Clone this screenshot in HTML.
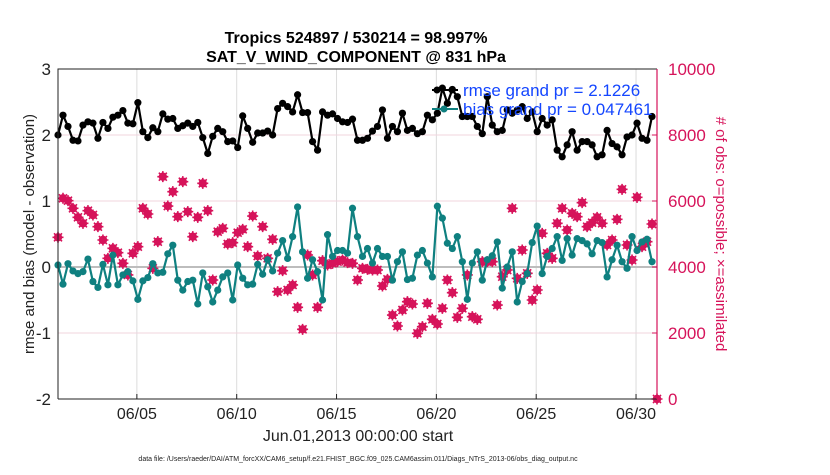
<!DOCTYPE html>
<html><head><meta charset="utf-8">
<style>
html,body{margin:0;padding:0;background:#fff;}
svg text{font-family:"Liberation Sans",Arial,sans-serif;}
</style></head>
<body>
<svg id="chart" width="830" height="470" viewBox="0 0 830 470" xmlns="http://www.w3.org/2000/svg">
<rect x="0" y="0" width="830" height="470" fill="#fff"/>
<g id="grid"></g>
<g id="series"></g>
<g id="axes"></g>
<text x="356" y="43" text-anchor="middle" font-size="16" font-weight="bold">Tropics 524897 / 530214 = 98.997%</text>
<text x="356" y="62" text-anchor="middle" font-size="16" font-weight="bold">SAT_V_WIND_COMPONENT @ 831 hPa</text>
<text transform="translate(34,234) rotate(-90)" text-anchor="middle" font-size="15" fill="#222">rmse and bias (model - observation)</text>
<text transform="translate(716,234) rotate(90)" text-anchor="middle" font-size="15" fill="#d6135a"># of obs: o=possible; ×=assimilated</text>
<text x="358" y="441" text-anchor="middle" font-size="16" fill="#222">Jun.01,2013 00:00:00 start</text>
<text x="358" y="461" text-anchor="middle" font-size="7" fill="#222">data file: /Users/raeder/DAI/ATM_forcXX/CAM6_setup/f.e21.FHIST_BGC.f09_025.CAM6assim.011/Diags_NTrS_2013-06/obs_diag_output.nc</text>
<g>
<line x1="432" y1="90" x2="458" y2="90" stroke="#000" stroke-width="2"/>
<circle cx="437" cy="90" r="3.5" fill="#000"/>
<circle cx="452" cy="90" r="3.5" fill="#000"/>
<text x="463" y="96" font-size="17" fill="#1446ff">rmse grand pr = 2.1226</text>
<line x1="432" y1="109" x2="458" y2="109" stroke="#0f8080" stroke-width="2"/>
<circle cx="444" cy="109" r="3.5" fill="#0f8080"/>
<text x="463" y="115" font-size="17" fill="#1446ff">bias grand pr = 0.047461</text>
</g>
</svg>
<script>
const xTickLabels=["06/05","06/10","06/15","06/20","06/25","06/30"];
const xTickDays=[5,10,15,20,25,30];
const leftTicks=[-2,-1,0,1,2,3];
const rightTicks=[0,2000,4000,6000,8000,10000];
const rightTickLabels=["0","2000","4000","6000","8000","10000"];
const rmse=[2.0,2.30,2.13,1.92,1.91,2.15,2.20,2.18,1.95,2.19,2.10,2.27,2.30,2.37,2.18,2.17,2.49,2.05,1.96,2.11,2.05,2.32,2.24,2.25,2.10,2.14,2.18,2.13,2.19,1.96,1.72,1.98,2.10,2.05,1.90,1.91,1.81,2.29,2.10,1.89,2.03,2.03,2.06,2.00,2.40,2.48,2.43,2.35,2.61,2.34,2.34,1.90,1.77,2.35,2.30,2.32,2.25,2.20,2.19,2.24,1.92,
1.92,1.95,2.06,2.13,2.38,1.95,2.13,2.05,2.33,2.07,2.10,2.02,2.05,2.30,2.23,2.33,2.71,2.48,2.69,2.58,2.28,2.28,2.28,2.13,2.02,2.58,2.15,2.05,2.07,2.38,2.33,2.38,2.43,2.25,2.35,2.05,2.25,2.15,2.23,1.77,1.67,1.85,2.05,1.77,1.90,1.90,1.85,1.67,1.70,2.07,1.87,1.82,1.70,1.97,2.00,2.18,1.95,1.92,2.28];
const bias=[0.03,-0.26,0.05,-0.06,-0.10,-0.07,0.12,-0.22,-0.31,0.04,-0.27,0.18,-0.27,-0.12,-0.07,-0.21,-0.49,-0.21,-0.16,0.05,-0.09,-0.08,0.20,0.33,-0.20,-0.35,-0.22,-0.20,-0.56,-0.09,-0.30,
-0.53,-0.35,-0.15,-0.09,-0.50,0.03,-0.17,-0.27,-0.26,0.04,-0.11,0.11,-0.06,0.21,0.40,0.13,0.46,0.91,0.23,-0.17,0.11,-0.07,-0.50,0.49,0.16,0.25,0.25,0.21,0.89,0.46,
0.16,0.28,0.06,0.28,0.16,0.16,-0.20,0.08,0.23,-0.19,-0.17,0.18,0.25,0.06,-0.15,0.92,0.74,0.36,0.28,0.46,0.08,-0.49,0.06,0.23,-0.20,0.11,0.17,0.38,-0.32,0.00,
0.23,-0.53,-0.22,-0.10,0.37,0.62,-0.10,0.16,0.28,0.46,0.10,0.43,0.18,0.43,0.40,0.35,0.20,0.40,0.37,-0.15,0.11,0.33,0.08,-0.02,0.46,0.25,0.38,0.42,0.08];
const nobs=[4900,6082,6010,5778,5505,5323,5707,5576,5222,4818,4263,4566,4434,4111,3758,4414,4616,5778,5606,3960,4768,6737,5848,6283,5525,6586,5677,4919,5505,6535,5707,
3606,5070,5171,4697,4737,5040,5141,4616,5545,4333,5222,4263,4838,3252,3889,3303,3455,2778,2111,4364,3758,2778,4192,4061,4111,4162,4212,4131,4111,3606,
3960,3929,3909,3909,3424,3626,2545,2212,2697,2949,2879,1990,2192,2899,2414,2273,2747,3606,3222,2475,2747,3758,2495,2414,4162,4162,4162,2848,3707,3909,
5778,3657,4515,3808,3000,3303,5020,4414,4263,5323,5778,5121,5626,5525,5949,5222,5343,5505,5323,4667,4818,5444,6354,4667,4212,6111,4616,4768,5303,0];
const X0=58,X1=657,Y0=69,Y1=399,DMIN=1.05,DMAX=31.05;
const xs=d=>X0+(d-DMIN)/(DMAX-DMIN)*(X1-X0);
const yl=v=>Y1-(v+2)/5*(Y1-Y0);
const yr=v=>Y1-v/10000*(Y1-Y0);
const dayOf=i=>DMIN+i*0.25;
const NS="http://www.w3.org/2000/svg";
function mk(tag,attrs,parent){const e=document.createElementNS(NS,tag);for(const k in attrs)e.setAttribute(k,attrs[k]);parent.appendChild(e);return e;}
const grid=document.getElementById('grid'),series=document.getElementById('series'),axes=document.getElementById('axes');
xTickDays.forEach((d,i)=>{
 const l=mk('line',{x1:xs(d),x2:xs(d),y1:Y0,y2:Y1,stroke:'#dcdcdc','stroke-width':1},grid);
 
 
 const t=mk('line',{x1:xs(d),x2:xs(d),y1:Y1,y2:Y1-5,stroke:'#222','stroke-width':1},axes);
 
 
 const tx=mk('text',{x:xs(d),y:Y1+20,'text-anchor':'middle','font-size':16,fill:'#222'},axes);
 tx.textContent=xTickLabels[i];
 
 
});
leftTicks.forEach(v=>{
 if(v!==-2&&v!==3&&v!==0){const g=mk('line',{x1:X0,x2:X1,y1:yl(v),y2:yl(v),stroke:'#f0d4de','stroke-width':1},grid);
 
 }
 const tx=mk('text',{x:X0-7,y:yl(v)+6,'text-anchor':'end','font-size':17,fill:'#222'},axes);
 tx.textContent=v;
 
 
});
const zl=mk('line',{x1:X0,x2:X1,y1:yl(0),y2:yl(0),stroke:'#bdbdbd','stroke-width':2},grid);


rightTicks.forEach((v,i)=>{
 const t=mk('line',{x1:X1,x2:X1-5,y1:yr(v),y2:yr(v),stroke:'#d6135a','stroke-width':1},axes);
 
 
 const tx=mk('text',{x:X1+11,y:yr(v)+6,'font-size':17,fill:'#d6135a'},axes);
 tx.textContent=rightTickLabels[i];
 
 
});
const fr=mk('path',{d:`M${X0},${Y1}V${Y0}H${X1}M${X0},${Y1}H${X1}`,fill:'none',stroke:'#222','stroke-width':1},axes);


const ra=mk('line',{x1:X1,x2:X1,y1:Y0,y2:Y1,stroke:'#d6135a','stroke-width':1.2},axes);


nobs.forEach((v,i)=>{
 const x=xs(dayOf(i)),y=yr(v);
 const g=mk('g',{},series);
 
 
 mk('circle',{cx:x,cy:y,r:4.2,fill:'#d6135a'},g);
 mk('path',{d:`M${x-5.5},${y}H${x+5.5}M${x},${y-5.5}V${y+5.5}M${x-4},${y-4}L${x+4},${y+4}M${x-4},${y+4}L${x+4},${y-4}`,stroke:'#d6135a','stroke-width':1.6},g);
});
function line(arr,color,name){
 const pts=arr.map((v,i)=>xs(dayOf(i)).toFixed(1)+','+yl(v).toFixed(1)).join(' ');
 const pl=mk('polyline',{points:pts,fill:'none',stroke:color,'stroke-width':2.2,'stroke-linejoin':'round'},series);
 
 
 arr.forEach((v,i)=>{
  const c=mk('circle',{cx:xs(dayOf(i)),cy:yl(v),r:3.6,fill:color},series);
  
  
 });
}
line(bias,'#0f8080','bias');
line(rmse,'#000','rmse');
</script>
</body></html>
